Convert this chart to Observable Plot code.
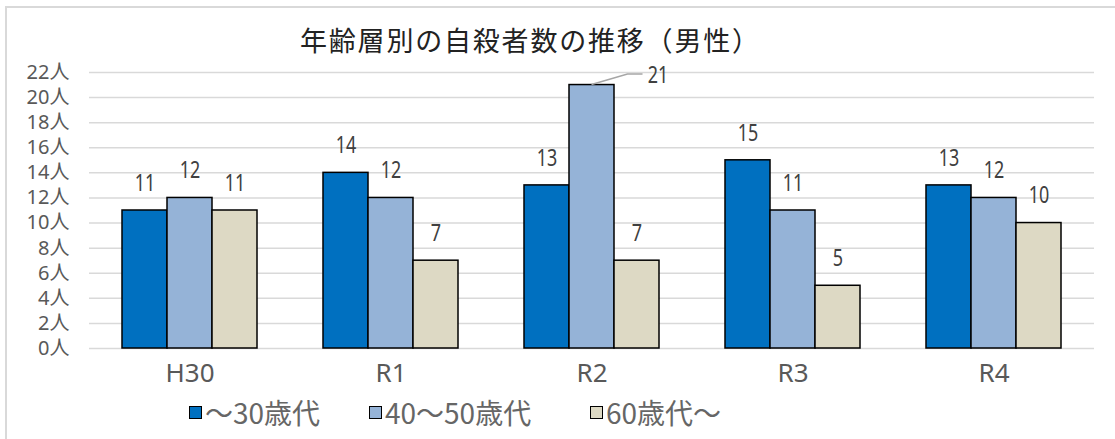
<!DOCTYPE html>
<html>
<head>
<meta charset="utf-8">
<script src="https://cdn.jsdelivr.net/npm/d3@7"></script>
<script src="https://cdn.jsdelivr.net/npm/@observablehq/plot@0.6"></script>
<style>
  body { margin: 0; background: #fff; }
  #wrap { position: relative; width: 1115px; height: 439px; overflow: hidden; background: #fff; }
  #frame { position: absolute; left: 5px; top: 6px; width: 1200px; height: 500px; border-left: 2px solid #d9d9d9; border-top: 2px solid #d9d9d9; }
  #title { position: absolute; left: 300px; top: 22px; font-family: "Noto Sans CJK JP", sans-serif; font-size: 27px; line-height: 36px; color: #222; letter-spacing: 1.8px; white-space: nowrap; }
  #chart { position: absolute; left: 0; top: 0; }
  .leg { position: absolute; top: 394px; height: 36px; display: flex; align-items: center; font-family: "Noto Sans CJK JP", sans-serif; font-size: 28px; color: #666; white-space: nowrap; }
  .sw { width: 11px; height: 11px; border: 1.5px solid #000; margin-right: 3px; }
</style>
</head>
<body>
<div id="wrap">
  <div id="frame"></div>
  <div id="chart"></div>
  <div id="title"></div>
  <div id="legend"></div>
</div>
<script>
const titleText = "年齢層別の自殺者数の推移（男性）";
const years = ["H30", "R1", "R2", "R3", "R4"];
const series = ["～30歳代", "40～50歳代", "60歳代～"];
const under30 = [11, 14, 13, 15, 13];
const age40to50 = [12, 12, 21, 11, 12];
const over60 = [11, 7, 7, 5, 10];
const colors = ["#0070C0", "#95B3D7", "#DDD9C4"];
const yTicks = [0, 2, 4, 6, 8, 10, 12, 14, 16, 18, 20, 22];
const callout = { year: "R2", series: "40～50歳代" };

const seriesValues = [under30, age40to50, over60];
const data = [];
years.forEach((yr, i) => {
  series.forEach((s, j) => data.push({ year: yr, series: s, value: seriesValues[j][i] }));
});
const isCallout = d => d.year === callout.year && d.series === callout.series;

document.getElementById("title").textContent = titleText;

const numFont = '"Noto Sans", "Noto Sans CJK JP", sans-serif';

const leader = Plot.dot(data.filter(isCallout), {
  x: "series", y: "value", fx: "year",
  render: (index, scales, values) => {
    const g = d3.create("svg:g");
    const bw = scales.x && scales.x.bandwidth ? scales.x.bandwidth() : 0;
    for (const i of index) {
      const x0 = values.x[i] + bw / 2, y0 = values.y[i];
      g.append("path")
        .attr("d", `M${x0},${y0} l36,-10.5 l15,0`)
        .attr("fill", "none").attr("stroke", "#a6a6a6").attr("stroke-width", 1.5);
    }
    return g.node();
  }
});

const chart = Plot.plot({
  width: 1115,
  height: 395,
  marginLeft: 88,
  marginRight: 21,
  marginTop: 72,
  marginBottom: 47,
  style: { fontFamily: numFont, background: "transparent", color: "#595959" },
  fx: { domain: years, padding: 0, label: null },
  x: { domain: series, paddingInner: 0, paddingOuter: 0.73, axis: null },
  y: { domain: [0, 22], label: null },
  color: { domain: series, range: colors },
  marks: [
    Plot.gridY(yTicks, { stroke: "#d9d9d9", strokeOpacity: 1, strokeWidth: 1.5 }),
    Plot.axisY(yTicks, { tickSize: 0, tickPadding: 20, tickFormat: d => d + "人", fontSize: 20, fill: "#595959", label: null, className: "ylab" }),
    Plot.axisFx({ anchor: "bottom", tickSize: 0, tickPadding: 15, fontSize: 26, fill: "#595959", label: null, fontFamily: '"Noto Sans", sans-serif' }),
    Plot.barY(data, { fx: "year", x: "series", y: "value", fill: "series", stroke: "#000", strokeWidth: 1.5 }),
    Plot.text(data.filter(d => !isCallout(d)), { fx: "year", x: "series", y: "value", text: d => String(d.value), dy: -27, fontSize: 23, fill: "#404040", className: "vlabel" }),
    Plot.text(data.filter(isCallout), { fx: "year", x: "series", y: "value", text: d => String(d.value), dx: 66, dy: -9, fontSize: 23, fill: "#404040", className: "vlabel" }),
    leader
  ]
});
document.getElementById("chart").appendChild(chart);

// narrow the value labels horizontally to resemble the condensed digits of the original
chart.querySelectorAll(".vlabel text").forEach(t => {
  const L = t.getComputedTextLength();
  t.setAttribute("textLength", (L * 0.78).toFixed(1));
  t.setAttribute("lengthAdjust", "spacingAndGlyphs");
});

const legendLefts = [189, 369, 590];
const legend = document.getElementById("legend");
series.forEach((s, j) => {
  const item = document.createElement("div");
  item.className = "leg";
  item.style.left = legendLefts[j] + "px";
  const sw = document.createElement("div");
  sw.className = "sw";
  sw.style.background = colors[j];
  const t = document.createElement("span");
  t.textContent = s;
  item.appendChild(sw);
  item.appendChild(t);
  legend.appendChild(item);
});
</script>
</body>
</html>
